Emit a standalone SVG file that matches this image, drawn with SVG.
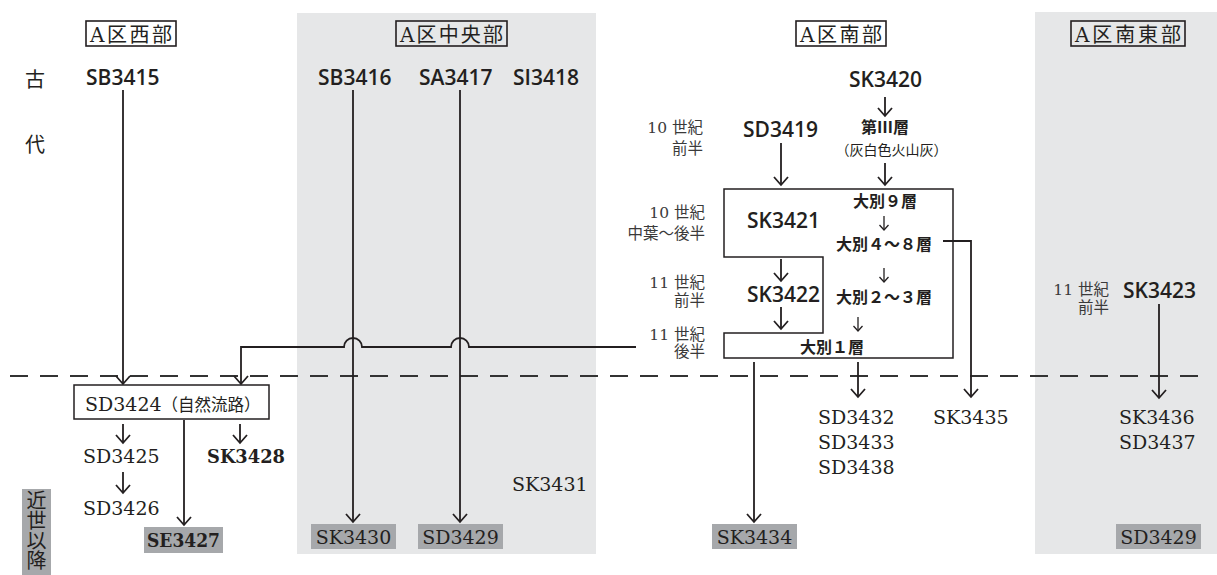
<svg xmlns="http://www.w3.org/2000/svg" width="1217" height="575" viewBox="0 0 1217 575">
<style>
.bg{fill:#e6e7e8}
.lbl{fill:#a6a8ab}
.hdr rect{fill:none;stroke:#231f20;stroke-width:1.6}
.hdr text{font-family:"DejaVu Serif","Noto Sans CJK JP",serif;font-size:20px;fill:#231f20;text-anchor:middle}
.sans{font-family:"Open Sans","Noto Sans",sans-serif;font-size:21px;font-weight:600;fill:#231f20}
.serif{font-family:"DejaVu Serif","Noto Sans CJK JP",serif;font-size:19px;fill:#231f20}
.bold{font-weight:bold}
.per{font-family:"DejaVu Serif","Noto Sans CJK JP",serif;font-size:15.5px;fill:#3a3a3a;text-anchor:end}
.jb{font-family:"Noto Sans CJK JP",sans-serif;font-size:16px;font-weight:700;fill:#231f20;text-anchor:middle}
.era{font-family:"Noto Sans CJK JP",serif;font-size:20px;fill:#231f20}
.mid{text-anchor:middle}
.ln{fill:none;stroke:#231f20;stroke-width:1.8}
.arr{marker-end:url(#ah)}
.sarr{fill:none;stroke:#231f20;stroke-width:1.3;marker-end:url(#sh)}
.box{fill:#fff;stroke:#231f20;stroke-width:1.5}
.frame{fill:none;stroke:#231f20;stroke-width:1.5}
</style>
<defs>
<marker id="ah" markerUnits="userSpaceOnUse" markerWidth="20" markerHeight="20" viewBox="0 0 20 20" refX="10" refY="10" orient="auto">
<path d="M2,3 L10,10 L2,17" fill="none" stroke="#231f20" stroke-width="1.8"/>
</marker>
<marker id="sh" markerUnits="userSpaceOnUse" markerWidth="14" markerHeight="14" viewBox="0 0 14 14" refX="7" refY="7" orient="auto">
<path d="M2,2.5 L7,7 L2,11.5" fill="none" stroke="#231f20" stroke-width="1.3"/>
</marker>
</defs>

<!-- background panels -->
<rect class="bg" x="297" y="13" width="299" height="541"/>
<rect class="bg" x="1035" y="12" width="182" height="542"/>

<!-- boundary dashed line -->
<line x1="10" y1="376" x2="1210" y2="376" stroke="#333" stroke-width="1.8" stroke-dasharray="18 12"/>

<!-- connectors -->
<g id="connectors">
<path class="ln arr" d="M123,90 V384"/>
<path class="ln arr" d="M353,90 V522"/>
<path class="ln arr" d="M460,90 V522"/>
<path class="ln arr" d="M636,347 H469 A9,9 0 0 0 451,347 H362 A9,9 0 0 0 344,347 H241 V384"/>
<path class="ln arr" d="M123,424 V443"/>
<path class="ln arr" d="M123,472 V493"/>
<path class="ln arr" d="M240,424 V443"/>
<path class="ln arr" d="M184,420 V525"/>
<path class="ln arr" d="M885,97 V116"/>
<path class="ln arr" d="M885,163 V185"/>
<path class="ln arr" d="M781,143 V185"/>
<path class="ln arr" d="M781,259 V281"/>
<path class="ln arr" d="M781,307 V329"/>
<path class="sarr" d="M884,216 V230"/>
<path class="sarr" d="M884,268 V282"/>
<path class="sarr" d="M858,317 V331"/>
<path class="ln arr" d="M943,241 H971 V397"/>
<path class="ln arr" d="M858,362 V397"/>
<path class="ln arr" d="M754,362 V522"/>
<path class="ln arr" d="M1159,304 V398"/>
</g>

<!-- headers -->
<g id="hdr-west" class="hdr"><rect x="86" y="21" width="90" height="25"/><text x="131" y="42" textLength="82" lengthAdjust="spacing">A区西部</text></g>
<g id="hdr-center" class="hdr"><rect x="396" y="21" width="111" height="25"/><text x="451.5" y="42" textLength="103" lengthAdjust="spacing">A区中央部</text></g>
<g id="hdr-south" class="hdr"><rect x="796" y="21" width="90" height="25"/><text x="841" y="42" textLength="82" lengthAdjust="spacing">A区南部</text></g>
<g id="hdr-southeast" class="hdr"><rect x="1071" y="21" width="114" height="25"/><text x="1128" y="42" textLength="106" lengthAdjust="spacing">A区南東部</text></g>

<!-- era labels -->
<g id="era-kodai"><text class="era" x="25" y="87">古</text><text class="era" x="25" y="152">代</text></g>
<g id="era-kinsei"><rect class="lbl" x="22" y="489" width="29" height="86"/><text class="era" x="36.5" y="490" writing-mode="vertical-rl" font-size="21.5">近世以降</text></g>

<!-- west nodes -->
<g id="SB3415"><text class="sans" x="86" y="85">SB3415</text></g>
<g id="SD3424"><rect class="box" x="74" y="385" width="195" height="34"/><text class="serif" x="85" y="411">SD3424<tspan font-size="16.5">（自然流路）</tspan></text></g>
<g id="SD3425"><text class="serif" x="83" y="463">SD3425</text></g>
<g id="SD3426"><text class="serif" x="83" y="515">SD3426</text></g>
<g id="SK3428"><text class="serif bold" x="207" y="463" textLength="78" lengthAdjust="spacingAndGlyphs">SK3428</text></g>
<g id="SE3427"><rect class="lbl" x="144" y="527" width="79" height="26"/><text class="serif bold mid" x="183.5" y="547" textLength="73" lengthAdjust="spacingAndGlyphs">SE3427</text></g>

<!-- center nodes -->
<g id="SB3416"><text class="sans" x="318" y="85">SB3416</text></g>
<g id="SA3417"><text class="sans" x="419" y="85">SA3417</text></g>
<g id="SI3418"><text class="sans" x="513" y="85">SI3418</text></g>
<g id="SK3430"><rect class="lbl" x="311" y="524" width="85" height="25"/><text class="serif mid" x="353.5" y="544">SK3430</text></g>
<g id="SD3429a"><rect class="lbl" x="418" y="524" width="85" height="25"/><text class="serif mid" x="460.5" y="544">SD3429</text></g>
<g id="SK3431"><text class="serif" x="512" y="491">SK3431</text></g>

<!-- south nodes -->
<g id="SK3420"><text class="sans" x="849" y="87">SK3420</text></g>
<g id="layer3"><text class="jb" x="885" y="133" font-size="15">第Ⅲ層</text><text class="mid" x="891.5" y="155" font-family="Noto Sans CJK JP,sans-serif" font-size="14" fill="#231f20">（灰白色火山灰）</text></g>
<g id="SD3419"><text class="sans" x="743" y="137">SD3419</text></g>
<g id="per-1"><text class="per" x="703" y="133">10 世紀</text><text class="per" x="703" y="154">前半</text></g>
<g id="per-2"><text class="per" x="705" y="218">10 世紀</text><text class="per" x="705" y="239">中葉～後半</text></g>
<g id="per-3"><text class="per" x="705" y="288">11 世紀</text><text class="per" x="705" y="306">前半</text></g>
<g id="per-4"><text class="per" x="705" y="340">11 世紀</text><text class="per" x="705" y="357">後半</text></g>
<g id="SK3421-group">
<path class="frame" d="M724,189 H953 V358 H724 V333 H823 V257 H724 Z"/>
<text class="sans" x="747" y="228">SK3421</text>
<text class="sans" x="747" y="302">SK3422</text>
<text class="jb" x="885" y="207">大別９層</text>
<text class="jb" x="884" y="250">大別４～８層</text>
<text class="jb" x="884" y="303">大別２～３層</text>
<text class="jb" x="832" y="353">大別１層</text>
</g>
<g id="SD3432"><text class="serif" x="818" y="424">SD3432</text><text class="serif" x="818" y="449">SD3433</text><text class="serif" x="818" y="474">SD3438</text></g>
<g id="SK3435"><text class="serif" x="933" y="424">SK3435</text></g>
<g id="SK3434"><rect class="lbl" x="712" y="524" width="85" height="25"/><text class="serif mid" x="754.5" y="544">SK3434</text></g>

<!-- southeast nodes -->
<g id="per-5"><text class="per" x="1109" y="295">11 世紀</text><text class="per" x="1109" y="313">前半</text></g>
<g id="SK3423"><text class="sans" x="1123" y="298">SK3423</text></g>
<g id="SK3436"><text class="serif" x="1119" y="424">SK3436</text><text class="serif" x="1119" y="449">SD3437</text></g>
<g id="SD3429b"><rect class="lbl" x="1116" y="524" width="85" height="25"/><text class="serif mid" x="1158.5" y="544">SD3429</text></g>
</svg>
